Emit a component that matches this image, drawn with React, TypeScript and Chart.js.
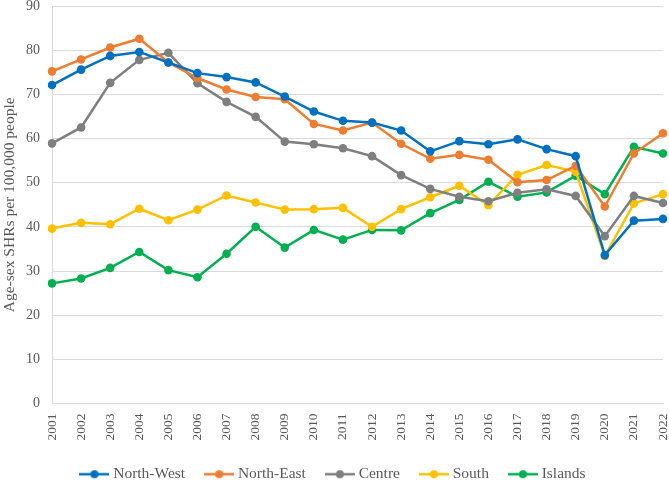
import React, { useEffect, useRef } from "react";
import { Chart, registerables } from "chart.js";

Chart.register(...registerables);

const years = ["2001","2002","2003","2004","2005","2006","2007","2008","2009","2010","2011","2012","2013","2014","2015","2016","2017","2018","2019","2020","2021","2022"];

const northWest = [72.1, 75.6, 78.7, 79.6, 77.2, 74.8, 73.9, 72.7, 69.5, 66.1, 64.0, 63.6, 61.8, 57.1, 59.4, 58.7, 59.8, 57.6, 56.0, 33.6, 41.4, 41.8];
const northEast = [75.2, 77.9, 80.6, 82.6, 77.2, 73.7, 71.1, 69.4, 68.9, 63.3, 61.8, 63.6, 58.8, 55.4, 56.3, 55.2, 50.1, 50.6, 53.8, 44.6, 56.6, 61.2];
const centre = [58.9, 62.5, 72.6, 77.8, 79.4, 72.5, 68.3, 64.9, 59.3, 58.7, 57.8, 56.0, 51.7, 48.6, 46.8, 45.8, 47.7, 48.5, 47.0, 37.9, 47.0, 45.4];
const south = [39.6, 40.9, 40.6, 44.1, 41.5, 43.9, 47.1, 45.5, 43.9, 44.0, 44.3, 40.0, 44.0, 46.7, 49.3, 44.9, 51.8, 54.0, 52.5, 33.4, 45.3, 47.4];
const islands = [27.2, 28.3, 30.7, 34.3, 30.2, 28.6, 33.9, 40.0, 35.3, 39.3, 37.1, 39.3, 39.2, 43.1, 46.1, 50.2, 46.8, 47.8, 51.6, 47.4, 58.1, 56.6];

const seriesNames = ["North-West", "North-East", "Centre", "South", "Islands"];
const seriesColors = ["#0070C0", "#ED7D31", "#7F7F7F", "#FFC000", "#00B050"];
const seriesData = [northWest, northEast, centre, south, islands];

const yTicksMin = 0;
const yTicksMax = 90;
const yTickStep = 10;
const yTitle = "Age-sex SHRs per 100,000 people";

const FONT = "'Liberation Serif', 'Times New Roman', serif";
const TEXT = "#595959";
const GRID = "#D9D9D9";

function makeIcon(color: string): HTMLCanvasElement {
  const c = document.createElement("canvas");
  c.width = 30;
  c.height = 10;
  const ctx = c.getContext("2d")!;
  ctx.strokeStyle = color;
  ctx.lineWidth = 2.5;
  ctx.beginPath();
  ctx.moveTo(0, 5);
  ctx.lineTo(30, 5);
  ctx.stroke();
  ctx.fillStyle = color;
  ctx.beginPath();
  ctx.arc(15, 5, 4, 0, Math.PI * 2);
  ctx.fill();
  return c;
}

export default function App() {
  const ref = useRef<HTMLCanvasElement | null>(null);

  useEffect(() => {
    if (!ref.current) return;
    const icons = seriesColors.map(makeIcon);
    const chart = new Chart(ref.current, {
      type: "line",
      data: {
        labels: years,
        datasets: seriesNames.map((name, i) => ({
          label: name,
          data: seriesData[i],
          borderColor: seriesColors[i],
          backgroundColor: seriesColors[i],
          pointBackgroundColor: seriesColors[i],
          pointBorderColor: seriesColors[i],
          borderWidth: 2.5,
          pointRadius: 4.3,
          pointBorderWidth: 0,
          pointStyle: "circle",
          tension: 0,
          fill: false,
        })),
      },
      options: {
        responsive: false,
        animation: false,
        layout: { padding: { left: 0, right: 0, top: 0, bottom: 0 } },
        plugins: {
          tooltip: { enabled: false },
          legend: {
            position: "bottom",
            labels: {
              usePointStyle: true,
              pointStyleWidth: 22,
              padding: 23,
              color: TEXT,
              font: { family: FONT, size: 15.5 },
              generateLabels: (ch: any) =>
                ch.data.datasets.map((ds: any, i: number) => ({
                  text: ds.label,
                  pointStyle: icons[i],
                  fillStyle: ds.borderColor,
                  strokeStyle: ds.borderColor,
                  lineWidth: 0,
                  hidden: false,
                  datasetIndex: i,
                  fontColor: TEXT,
                })),
            },
          },
        },
        scales: {
          x: {
            grid: { display: false, drawTicks: false, tickLength: 0 },
            border: { display: true, color: GRID, width: 1 },
            ticks: {
              minRotation: 90,
              maxRotation: 90,
              padding: 10,
              color: TEXT,
              font: { family: FONT, size: 13.5, lineHeight: 0.85 },
            },
            afterFit: (s: any) => {
              s.height = 40;
              s.paddingLeft = 0;
              s.paddingRight = 6;
            },
          },
          y: {
            min: yTicksMin,
            max: yTicksMax,
            ticks: {
              stepSize: yTickStep,
              padding: 12,
              color: TEXT,
              font: { family: FONT, size: 14, lineHeight: 0.86 },
            },
            grid: { color: GRID, lineWidth: 1, drawTicks: false, tickLength: 0 },
            border: { display: true, color: GRID, width: 1 },
            title: {
              display: true,
              text: yTitle,
              color: TEXT,
              font: { family: FONT, size: 15.5 },
              padding: { top: 1, bottom: 0 },
            },
            afterFit: (s: any) => {
              s.width = 52;
              s.paddingTop = 6;
              s.paddingBottom = 0;
            },
          },
        },
      },
    });
    return () => chart.destroy();
  }, []);

  return (
    <div style={{ position: "absolute", left: 0, top: 0, width: 669, height: 480, overflow: "hidden", background: "#fff" }}>
      <canvas ref={ref} width={669} height={492} style={{ display: "block", width: 669, height: 492 }} />
    </div>
  );
}
